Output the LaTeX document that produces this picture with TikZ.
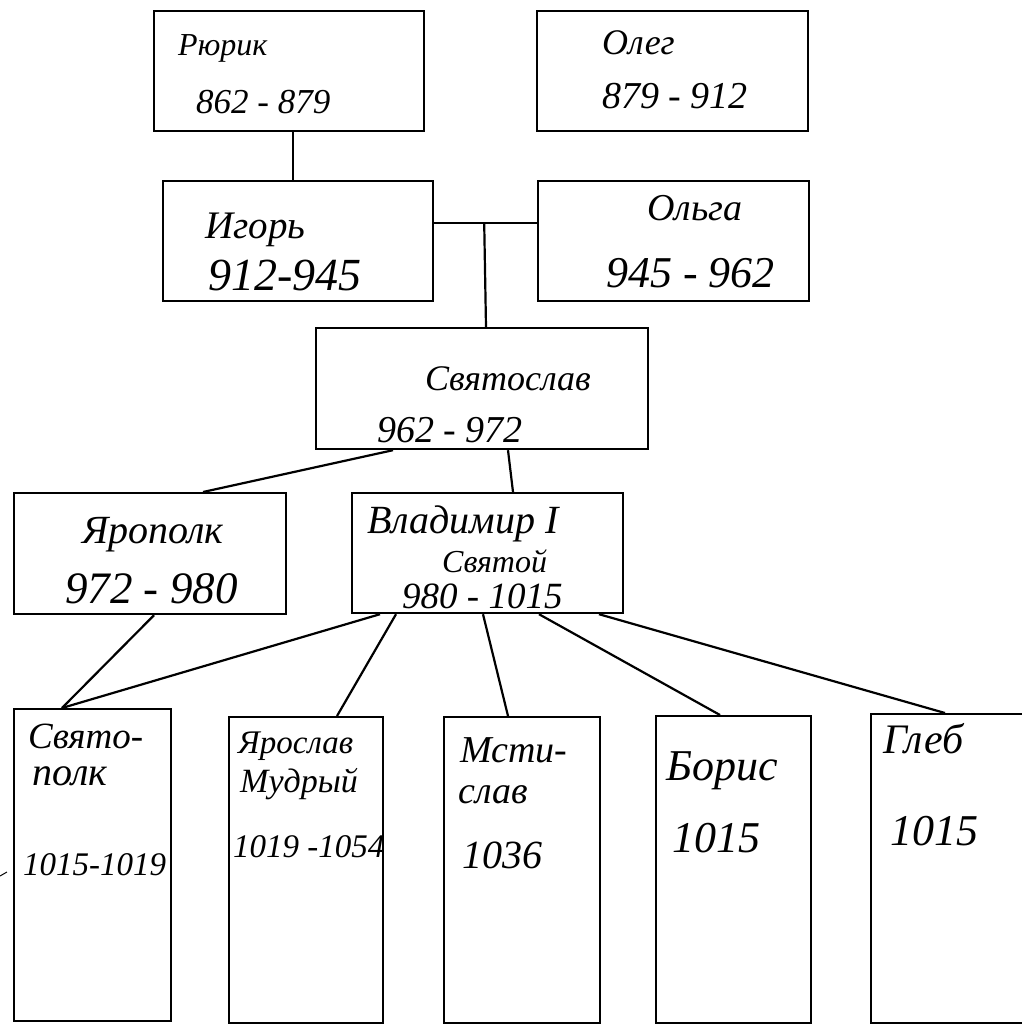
\documentclass[tikz,border=0pt]{standalone}
\usepackage{fontspec}
\newfontfamily\hwfont{Liberation Serif}
\usetikzlibrary{calc}
\tikzset{
  box/.style={draw, line width=2.2pt, inner sep=0pt, anchor=north west},
  conn/.style={line width=2.2pt},
  hw/.style={font=\hwfont\itshape\fontsize{#1}{#1}\selectfont, inner sep=0pt, anchor=base west},
}
\begin{document}
\begin{tikzpicture}[x=1pt,y=-1pt]
\useasboundingbox (0,0) rectangle (1022,1025);
\fill[white] (0,0) rectangle (1022,1025);

% boxes: top-left corner, width, height
\node[box, minimum width=270pt, minimum height=120pt] (rurik)      at (153,10)  {};
\node[box, minimum width=271pt, minimum height=120pt] (oleg)       at (536,10)  {};
\node[box, minimum width=270pt, minimum height=120pt] (igor)       at (162,180) {};
\node[box, minimum width=271pt, minimum height=120pt] (olga)       at (537,180) {};
\node[box, minimum width=332pt, minimum height=121pt] (svyat)      at (315,327) {};
\node[box, minimum width=272pt, minimum height=121pt] (yaropolk)   at (13,492)  {};
\node[box, minimum width=271pt, minimum height=120pt] (vladimir)   at (351,492) {};
\node[box, minimum width=157pt, minimum height=312pt] (svyatopolk) at (13,708)  {};
\node[box, minimum width=154pt, minimum height=306pt] (yaroslav)   at (228,716) {};
\node[box, minimum width=156pt, minimum height=306pt] (mstislav)   at (443,716) {};
\node[box, minimum width=155pt, minimum height=307pt] (boris)      at (655,715) {};
\node[box, minimum width=170pt, minimum height=309pt] (gleb)       at (870,713) {};

% names and years
\node[hw=32] (rurik-name)  at (178,56)  {Рюрик};
\node[hw=35] (rurik-years) at (196,113) {862 - 879};
\node[hw=36] (oleg-name)   at (602,55)  {Олег};
\node[hw=38] (oleg-years)  at (602,108) {879 - 912};
\node[hw=39] (igor-name)   at (205,238) {Игорь};
\node[hw=46] (igor-years)  at (208,290) {912-945};
\node[hw=38] (olga-name)   at (647,220) {Ольга};
\node[hw=44] (olga-years)  at (606,287) {945 - 962};
\node[hw=36] (svyat-name)  at (425,390) {Святослав};
\node[hw=38] (svyat-years) at (377,442) {962 - 972};
\node[hw=40] (yaropolk-name)  at (82,543)  {Ярополк};
\node[hw=45] (yaropolk-years) at (65,603)  {972 - 980};
\node[hw=40] (vlad-name)   at (367,533) {Владимир I};
\node[hw=32] (vlad-title)  at (442,572) {Святой};
\node[hw=37] (vlad-years)  at (402,608) {980 - 1015};
\node[hw=37] (svyatopolk-name1) at (28,748)  {Свято-};
\node[hw=40] (svyatopolk-name2) at (32,785)  {полк};
\node[hw=33] (svyatopolk-years) at (23,875)  {1015-1019};
\node[hw=33] (yaroslav-name1)   at (238,753) {Ярослав};
\node[hw=34] (yaroslav-name2)   at (240,792) {Мудрый};
\node[hw=33] (yaroslav-years)   at (233,857) {1019 -1054};
\node[hw=38] (mstislav-name1)   at (460,762) {Мсти-};
\node[hw=38] (mstislav-name2)   at (458,803) {слав};
\node[hw=40] (mstislav-years)   at (462,868) {1036};
\node[hw=44] (boris-name)  at (666,780) {Борис};
\node[hw=44] (boris-years) at (672,852) {1015};
\node[hw=42] (gleb-name)   at (883,753) {Глеб};
\node[hw=44] (gleb-years)  at (890,845) {1015};

% stray pen mark by the left edge
\draw[line width=1pt] (0,876) -- (7,872);

% lines of descent
\draw[conn] ($(rurik.south west)+(140,0)$) -- ($(igor.north west)+(131,0)$);
\draw[conn] ($(igor.north east)+(0,43)$) -- ($(olga.north west)+(0,43)$);
\coordinate (igor-olga) at ($(igor.north east)+(50,43)$);
\draw[conn] (igor-olga) -- ($(svyat.north west)+(171,0)$);
\draw[conn] ($(svyat.south west)+(78,0)$)  -- ($(yaropolk.north west)+(190,0)$);
\draw[conn] ($(svyat.south west)+(193,0)$) -- ($(vladimir.north west)+(162,0)$);
\draw[conn] ($(yaropolk.south west)+(141,0)$) -- ($(svyatopolk.north west)+(49,0)$);
\draw[conn] ($(vladimir.south west)+(29,0)$)  -- ($(svyatopolk.north west)+(49,0)$);
\draw[conn] ($(vladimir.south west)+(45,0)$)  -- ($(yaroslav.north west)+(109,0)$);
\draw[conn] ($(vladimir.south west)+(132,0)$) -- ($(mstislav.north west)+(65,0)$);
\draw[conn] ($(vladimir.south west)+(188,0)$) -- ($(boris.north west)+(65,0)$);
\draw[conn] ($(vladimir.south west)+(248,0)$) -- ($(gleb.north west)+(75,0)$);
\end{tikzpicture}
\end{document}
